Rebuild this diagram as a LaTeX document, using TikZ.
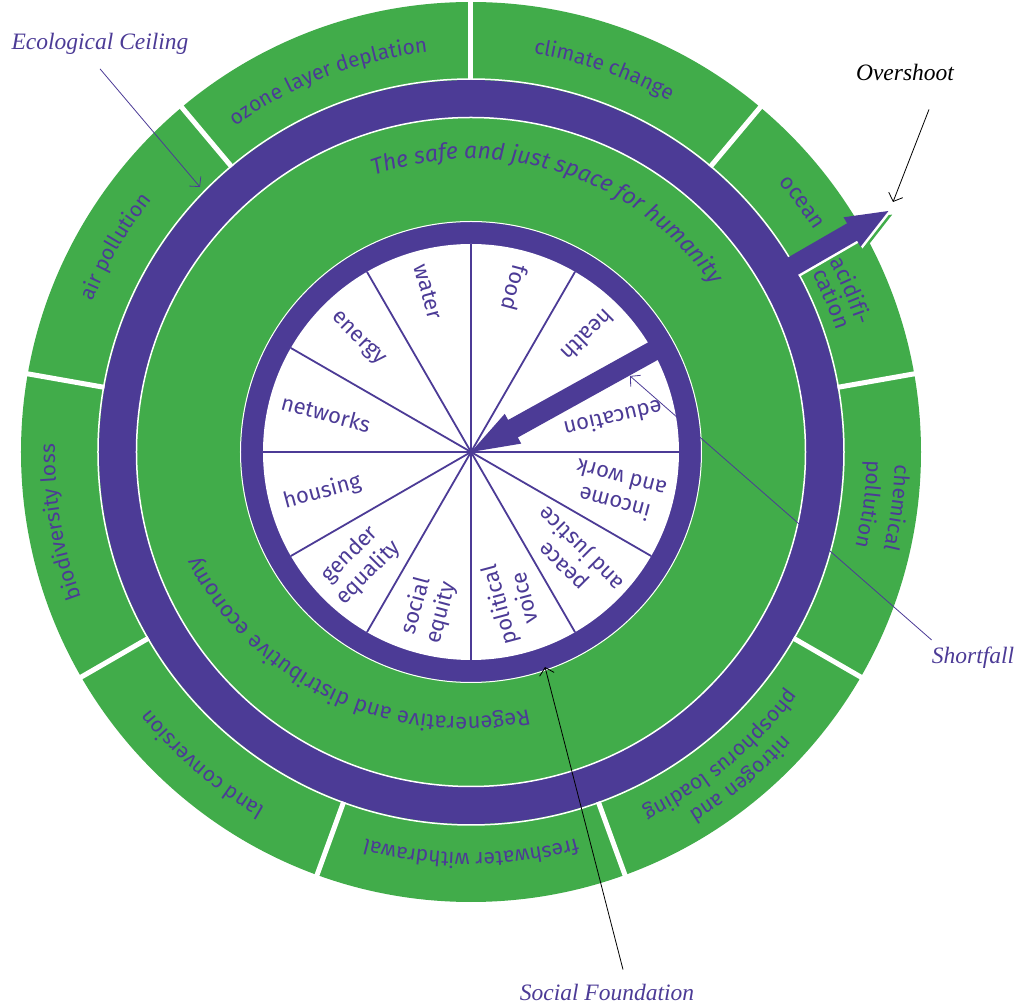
\documentclass[tikz,border=0pt]{standalone}
\usepackage{fontspec}
\usetikzlibrary{arrows.meta,decorations.text}
\newfontfamily\labelfont{Fira Sans}
\newfontfamily\notefont{Liberation Serif}
\definecolor{dgreen}{RGB}{65,172,74}
\definecolor{dpurple}{RGB}{76,59,150}

\tikzset{
  wedgelab/.style={text=dpurple, font=\labelfont\fontsize{22}{26}\selectfont, align=center, inner sep=0pt},
  note/.style={font=\notefont\itshape\fontsize{23.5}{27}\selectfont, inner sep=0pt},
  pointer/.style={line width=0.8pt, -{Straight Barb[length=7pt,width=15pt]}},
}
% curved label on the outer ring: angle, radius, size, text
\newcommand{\arclabel}[4]{%
  \path[decorate, decoration={text along path, text align=center, text color=dpurple,
      text={|\labelfont\fontsize{#3}{#3}\selectfont|#4}}]
    (#1+25:#2) arc[start angle=#1+25, end angle=#1-25, radius=#2];}
% fat arrows
\newcommand{\overshootpath}{(0,-10) -- (90,-10) -- (90,-17) -- (132,0) -- (90,17) -- (90,10) -- (0,10) -- cycle}
\newcommand{\shortfallpath}{(0,-10) -- (177,-10) -- (177,-17) -- (225,0) -- (177,17) -- (177,10) -- (0,10) -- cycle}

\begin{document}
\begin{tikzpicture}[x=1pt,y=1pt]
  \useasboundingbox (-471,-556) rectangle (549,452);
  % planetary boundaries
  \fill[dgreen] (0,0) circle (450);
  \foreach \a in {90,130,...,410}
    \draw[white, line width=5pt] (\a:368) -- (\a:456);
  % overshoot (green and white edges)
  \begin{scope}[shift={(30:350)}, rotate=30]
    \fill[dgreen, shift={(1.5,-5)}] \overshootpath;
    \fill[white, shift={(0.7,-2.5)}] \overshootpath;
  \end{scope}
  % ecological ceiling
  \fill[dpurple, even odd rule] (0,0) circle (372) circle (335);
  \draw[white, line width=1.5pt] (0,0) circle (334.5);
  \draw[white, line width=1.5pt] (0,0) circle (373);
  % social foundation
  \fill[dpurple] (0,0) circle (230);
  \draw[white, line width=1pt] (0,0) circle (230.5);
  \fill[white] (0,0) circle (208);
  \foreach \a in {0,30,...,330}
    \draw[dpurple, line width=1.8pt] (0,0) -- (\a:208);
  % social labels
  \foreach \a/\r/\t [count=\i] in {105/166/water, 75/170/food, 45/165/health, 13/146/education,
      -15/152/{income\\and work}, -45/146/{peace\\and justice}, -75/155/{political\\voice},
      -105/163/{social\\equity}, -135/158/{gender\\equality}, -165/154/housing,
      165/150/networks, 135/160/energy}
    \node[wedgelab, rotate=\a+180] (soc\i) at (\a:\r) {\t};
  % ring texts
  \path[decorate, decoration={text along path, text align=center, text color=dpurple,
      text={|\labelfont\itshape\fontsize{23}{23}\selectfont|The safe and just space for humanity}}]
    (72+60:293) arc[start angle=72+60, end angle=72-60, radius=293];
  \begin{scope}[shift={(-9,31)}]
    \path[decorate, decoration={text along path, text align=center, text color=dpurple,
        text={|\labelfont\fontsize{22}{22}\selectfont|Regenerative and distributive economy}}]
      (245+60:296) arc[start angle=245+60, end angle=245-60, radius=296];
  \end{scope}
  % boundary labels
  \arclabel{70.8}{403}{21}{climate change}
  \arclabel{111}{402}{21}{ozone layer deplation}
  \arclabel{150}{407}{21}{air pollution}
  \arclabel{189.7}{416}{21}{biodiversity loss}
  \arclabel{229.3}{411}{21}{land conversion}
  \arclabel{270}{401}{21}{freshwater withdrawal}
  \arclabel{309.5}{421}{21}{nitrogen and}
  \arclabel{309.5}{396}{21}{phosphorus loading}
  \arclabel{352.5}{424}{21}{chemical}
  \arclabel{352.5}{396}{21}{pollution}
  \arclabel{37}{409}{22}{ocean}
  \arclabel{23}{406}{22}{acidifi-}
  \arclabel{23}{385}{22}{cation}
  % overshoot and shortfall arrows
  \begin{scope}[shift={(30:350)}, rotate=30]
    \fill[dpurple] \overshootpath;
  \end{scope}
  \begin{scope}[shift={(29:225)}, rotate=209]
    \fill[dpurple] \shortfallpath;
  \end{scope}
  % annotations
  \coordinate (ceil) at (-271,265);
  \coordinate (ovtip) at (422,250);
  \coordinate (sftip) at (159,76);
  \coordinate (fdtip) at (74,-215);
  \node[note, text=dpurple] (eco) at (-371,408) {Ecological Ceiling};
  \node[note] (ovr) at (434,380) {Overshoot};
  \node[note, text=dpurple] (sfl) at (502,-206) {Shortfall};
  \node[note, text=dpurple] (sfd) at (136,-540) {Social Foundation};
  \draw[pointer, dpurple] ([yshift=-14pt]eco.south) -- (ceil);
  \draw[pointer] ([xshift=24pt,yshift=-29pt]ovr.south) -- (ovtip);
  \draw[pointer, dpurple] ([yshift=7pt]sfl.north west) -- (sftip);
  \draw[pointer] ([xshift=16pt,yshift=14pt]sfd.north) -- (fdtip);
\end{tikzpicture}
\end{document}
